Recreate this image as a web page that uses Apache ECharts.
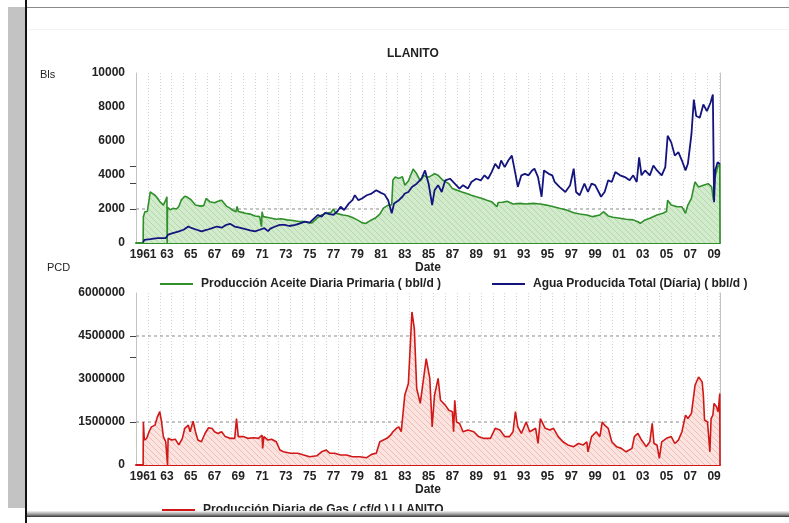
<!DOCTYPE html>
<html>
<head>
<meta charset="utf-8">
<script src="https://cdn.jsdelivr.net/npm/echarts@6/dist/echarts.min.js"></script>
<style>
  html, body { margin: 0; padding: 0; background: #fff; }
  #chart { width: 789px; height: 523px; }
</style>
</head>
<body>
<div id="chart"></div>
<script>
// ---- data ----------------------------------------------------------------
const chartTitle = 'LLANITO';
const oilName = 'Producción Aceite Diaria Primaria ( bbl/d )';
const waterName = 'Agua Producida Total (Díaria) ( bbl/d )';
const gasName = 'Producción Diaria de Gas ( cf/d ) LLANITO';

// tick years shown under both panels
const tickYears = [1961, 1963, 1965, 1967, 1969, 1971, 1973, 1975, 1977, 1979, 1981, 1983,
  1985, 1987, 1989, 1991, 1993, 1995, 1997, 1999, 2001, 2003, 2005, 2007, 2009];
const yearRange = [1960.4, 2009.5];

// top panel: barrels per day
const oilDaily = [
  [1961.0, 0], [1961.02, 1550], [1961.15, 1840], [1961.35, 1850], [1961.6, 3010], [1961.8, 2900],
  [1962.0, 2810], [1962.2, 2650], [1962.4, 2430], [1962.7, 2230], [1962.9, 2520], [1963.0, 2720],
  [1963.02, 0], [1963.05, 2100], [1963.3, 1950], [1963.5, 2040], [1963.8, 2000], [1964.0, 2150],
  [1964.2, 2520], [1964.5, 2750], [1964.7, 2700], [1965.0, 2560], [1965.4, 2230], [1965.8, 2170],
  [1966.1, 2200], [1966.3, 2620], [1966.6, 2430], [1967.0, 2370], [1967.3, 2450], [1967.6, 2520],
  [1968.0, 2170], [1968.3, 2050], [1968.5, 1940], [1968.8, 1840], [1968.9, 2150], [1969.0, 1850],
  [1969.3, 1800], [1969.6, 1750], [1970.0, 1700], [1970.4, 1590], [1970.8, 1550], [1970.95, 970],
  [1971.0, 1840], [1971.1, 1550], [1971.5, 1500], [1971.8, 1460], [1972.2, 1400], [1972.6, 1430],
  [1973.1, 1360], [1973.6, 1320], [1974.1, 1260], [1974.5, 1260], [1974.9, 1200], [1975.2, 1180],
  [1975.6, 1450], [1976.0, 1650], [1976.4, 1750], [1976.8, 1800], [1977.0, 2000], [1977.2, 1750],
  [1977.5, 1700], [1977.8, 1650], [1978.2, 1600], [1978.6, 1500], [1979.0, 1360], [1979.4, 1200],
  [1979.7, 1150], [1980.1, 1320], [1980.5, 1450], [1980.9, 1700], [1981.2, 2050], [1981.6, 2230],
  [1981.9, 2250], [1982.0, 3700], [1982.2, 3880], [1982.5, 3800], [1982.8, 3900], [1983.0, 3400],
  [1983.3, 3650], [1983.7, 4350], [1984.0, 4070], [1984.3, 3650], [1984.6, 3980], [1984.9, 3850],
  [1985.2, 3950], [1985.5, 4070], [1985.8, 3980], [1986.2, 3690], [1986.7, 3490], [1987.0, 3200],
  [1987.4, 3100], [1987.8, 3000], [1988.2, 2910], [1988.6, 2810], [1989.0, 2720], [1989.5, 2620],
  [1989.9, 2520], [1990.3, 2430], [1990.75, 2130], [1990.85, 2380], [1991.2, 2400], [1991.6, 2450],
  [1992.1, 2290], [1992.7, 2330], [1993.2, 2290], [1993.8, 2330], [1994.4, 2290], [1994.9, 2230],
  [1995.5, 2130], [1996.0, 2040], [1996.6, 1940], [1997.2, 1780], [1997.7, 1710], [1998.3, 1650],
  [1998.8, 1550], [1999.4, 1650], [1999.7, 1840], [2000.1, 1590], [2000.5, 1510], [2001.1, 1460],
  [2001.6, 1400], [2002.2, 1360], [2002.6, 1250], [2002.8, 1160], [2003.2, 1360], [2003.6, 1460],
  [2004.2, 1650], [2004.7, 1750], [2005.0, 1850], [2005.1, 2520], [2005.4, 2230], [2005.9, 2130],
  [2006.3, 2130], [2006.6, 1750], [2006.8, 2230], [2007.1, 2620], [2007.3, 3300], [2007.4, 3590],
  [2007.7, 3300], [2008.1, 3400], [2008.5, 3490], [2008.8, 3300], [2008.95, 2520], [2009.05, 3780],
  [2009.3, 4460], [2009.48, 4650], [2009.5, 0]
];

const waterDaily = [
  [1961.0, 40], [1961.1, 190], [1961.6, 230], [1962.2, 290], [1962.9, 290], [1963.0, 290],
  [1963.1, 490], [1963.5, 580], [1964.0, 680], [1964.4, 780], [1964.8, 970], [1965.1, 870],
  [1965.5, 780], [1965.9, 680], [1966.4, 780], [1966.8, 870], [1967.2, 970], [1967.6, 900],
  [1968.0, 1070], [1968.3, 1130], [1968.7, 970], [1969.1, 900], [1969.6, 810], [1970.0, 740],
  [1970.4, 680], [1970.8, 780], [1971.2, 870], [1971.5, 700], [1971.7, 850], [1972.1, 970],
  [1972.5, 1070], [1972.9, 1070], [1973.3, 1000], [1973.8, 1070], [1974.2, 1160], [1974.6, 1260],
  [1975.0, 1200], [1975.4, 1460], [1975.7, 1650], [1976.0, 1550], [1976.3, 1780], [1976.6, 1710],
  [1977.0, 1650], [1977.3, 1840], [1977.6, 2130], [1977.9, 1940], [1978.3, 2330], [1978.6, 2520],
  [1978.8, 2810], [1979.1, 2520], [1979.4, 2620], [1979.8, 2810], [1980.2, 2910], [1980.6, 3100],
  [1981.0, 2950], [1981.3, 2850], [1981.6, 2520], [1981.9, 1750], [1982.1, 2330], [1982.5, 2520],
  [1982.8, 2720], [1983.0, 2910], [1983.3, 3000], [1983.6, 3300], [1984.0, 3490], [1984.4, 3780],
  [1984.7, 4270], [1985.0, 3490], [1985.3, 2230], [1985.5, 3100], [1985.8, 3400], [1986.1, 3000],
  [1986.4, 3690], [1986.8, 3780], [1987.2, 3490], [1987.6, 3200], [1987.9, 3400], [1988.3, 3200],
  [1988.6, 3590], [1989.0, 3780], [1989.4, 3690], [1989.7, 3980], [1990.0, 3780], [1990.3, 4170],
  [1990.6, 4660], [1990.9, 4370], [1991.1, 4850], [1991.4, 4460], [1991.7, 4850], [1992.0, 5140],
  [1992.3, 4070], [1992.5, 3300], [1992.8, 3980], [1993.1, 4070], [1993.4, 3980], [1993.7, 4270],
  [1993.9, 4370], [1994.2, 3880], [1994.5, 2720], [1994.7, 4270], [1995.1, 4070], [1995.4, 3980],
  [1995.6, 3590], [1996.0, 3300], [1996.5, 3000], [1996.9, 3400], [1997.2, 4370], [1997.4, 3000],
  [1997.7, 2810], [1998.1, 3490], [1998.4, 3000], [1998.7, 3490], [1999.0, 3400], [1999.3, 3000],
  [1999.5, 2720], [1999.8, 3000], [2000.1, 3690], [2000.4, 3590], [2000.7, 4170], [2001.1, 3980],
  [2001.5, 3880], [2001.9, 3690], [2002.2, 3980], [2002.5, 3590], [2002.7, 5040], [2002.9, 3980],
  [2003.2, 4270], [2003.6, 3980], [2003.9, 4560], [2004.2, 4270], [2004.6, 3980], [2004.9, 4460],
  [2005.1, 6310], [2005.4, 5920], [2005.7, 5140], [2006.0, 5340], [2006.3, 4850], [2006.6, 4270],
  [2006.8, 4660], [2007.1, 6400], [2007.3, 8440], [2007.5, 7470], [2007.8, 7370], [2008.1, 8150],
  [2008.4, 7760], [2008.7, 8250], [2008.9, 8730], [2009.0, 2400], [2009.1, 4270], [2009.3, 4750],
  [2009.5, 4650]
];

// bottom panel: cubic feet per day
const gasDaily = [
  [1961.0, 0], [1961.02, 1500000], [1961.1, 870000], [1961.3, 930000], [1961.5, 1160000],
  [1961.7, 1330000], [1962.0, 1390000], [1962.2, 1680000], [1962.4, 1860000], [1962.55, 1500000],
  [1962.7, 990000], [1962.9, 810000], [1963.0, 850000], [1963.05, 0], [1963.1, 930000],
  [1963.4, 870000], [1963.7, 900000], [1964.0, 700000], [1964.3, 930000], [1964.5, 1280000],
  [1964.8, 1390000], [1964.95, 1160000], [1965.2, 1530000], [1965.4, 1160000], [1965.6, 870000],
  [1965.9, 810000], [1966.2, 1100000], [1966.5, 1300000], [1966.8, 1270000], [1967.0, 1160000],
  [1967.3, 1100000], [1967.6, 1160000], [1967.9, 990000], [1968.3, 930000], [1968.7, 930000],
  [1968.85, 1620000], [1969.0, 990000], [1969.4, 990000], [1969.8, 930000], [1970.3, 950000],
  [1970.7, 930000], [1971.0, 1040000], [1971.05, 580000], [1971.15, 990000], [1971.5, 870000],
  [1971.8, 900000], [1972.2, 810000], [1972.5, 520000], [1972.8, 460000], [1973.4, 410000],
  [1974.0, 410000], [1974.5, 350000], [1975.0, 290000], [1975.6, 320000], [1976.0, 460000],
  [1976.4, 520000], [1976.7, 410000], [1977.1, 410000], [1977.6, 350000], [1978.1, 350000],
  [1978.6, 290000], [1979.2, 290000], [1979.8, 255000], [1980.2, 370000], [1980.6, 410000],
  [1980.9, 810000], [1981.2, 870000], [1981.5, 930000], [1981.8, 1040000], [1982.0, 1160000],
  [1982.3, 1280000], [1982.5, 1330000], [1982.7, 1160000], [1983.0, 2440000], [1983.3, 2840000],
  [1983.6, 5340000], [1983.8, 4760000], [1984.0, 2670000], [1984.3, 2150000], [1984.5, 2780000],
  [1984.8, 3710000], [1985.1, 3020000], [1985.3, 1330000], [1985.5, 2440000], [1985.8, 3020000],
  [1986.0, 2260000], [1986.4, 2090000], [1986.7, 1910000], [1987.0, 1860000], [1987.1, 1160000],
  [1987.2, 2260000], [1987.35, 1500000], [1987.6, 1450000], [1987.9, 1160000], [1988.3, 1220000],
  [1988.8, 1160000], [1989.2, 990000], [1989.6, 930000], [1990.2, 930000], [1990.6, 1280000],
  [1991.0, 1220000], [1991.4, 990000], [1991.8, 990000], [1992.1, 1160000], [1992.3, 1860000],
  [1992.5, 1330000], [1992.8, 1100000], [1993.2, 1500000], [1993.5, 1160000], [1994.0, 1280000],
  [1994.2, 750000], [1994.4, 1620000], [1994.8, 1280000], [1995.2, 1220000], [1995.5, 1280000],
  [1995.9, 990000], [1996.3, 810000], [1996.7, 700000], [1997.2, 640000], [1997.6, 750000],
  [1998.0, 700000], [1998.3, 810000], [1998.4, 460000], [1998.7, 990000], [1999.1, 1160000],
  [1999.4, 990000], [1999.6, 1500000], [1999.8, 1390000], [2000.1, 1280000], [2000.4, 810000],
  [2000.8, 640000], [2001.2, 580000], [2001.6, 460000], [2002.1, 580000], [2002.3, 990000],
  [2002.6, 1100000], [2002.9, 870000], [2003.3, 640000], [2003.6, 810000], [2003.8, 1450000],
  [2003.95, 750000], [2004.2, 700000], [2004.4, 230000], [2004.6, 810000], [2005.0, 930000],
  [2005.4, 990000], [2005.7, 750000], [2006.0, 870000], [2006.3, 1160000], [2006.6, 1740000],
  [2006.8, 1620000], [2007.1, 1800000], [2007.4, 2780000], [2007.7, 3070000], [2008.0, 2900000],
  [2008.1, 2440000], [2008.2, 1570000], [2008.45, 1500000], [2008.65, 460000], [2008.75, 1620000],
  [2008.9, 1740000], [2009.0, 2150000], [2009.2, 2030000], [2009.35, 1860000], [2009.48, 2490000],
  [2009.5, 0]
];

// dashed reference levels and extra axis ticks per panel
const topRefLevels = [2000];
const topExtraTicks = [2000, 3500, 4500];
const bottomRefLevels = [1500000, 4500000];
const bottomExtraTicks = [1500000, 3750000, 4500000];

// ---- styling helpers -----------------------------------------------------
const FONT = '"Liberation Sans", Arial, sans-serif';
const GREEN = '#2f8f2a';
const BLUE = '#14147f';
const RED = '#d01818';

function hatch(base, stroke) {
  const c = document.createElement('canvas');
  c.width = 6; c.height = 6;
  const g = c.getContext('2d');
  g.fillStyle = base;
  g.fillRect(0, 0, 6, 6);
  g.strokeStyle = stroke;
  g.lineWidth = 1;
  g.beginPath();
  g.moveTo(-1, -1); g.lineTo(7, 7);
  g.moveTo(-1, 5); g.lineTo(1, 7);
  g.moveTo(5, -1); g.lineTo(7, 1);
  g.stroke();
  return c;
}

function refSeries(levels, xIdx, yIdx) {
  return levels.map(v => ({
    type: 'line', xAxisIndex: xIdx, yAxisIndex: yIdx, z: 1, silent: true,
    symbol: 'none', data: [[yearRange[0], v], [yearRange[1], v]],
    lineStyle: { color: '#8c8c8c', width: 1, type: [3, 3] }
  }));
}

const yearLabel = v => (v === 1961 ? '1961' : String(v % 100).padStart(2, '0'));

function gridLineAxis(gridIndex) {
  return {
    type: 'value', gridIndex, position: 'top', min: yearRange[0], max: yearRange[1], interval: 1,
    axisLine: { show: false }, axisTick: { show: false }, axisLabel: { show: false },
    splitLine: { show: true, lineStyle: { color: '#d4d4d4', type: [1, 2], width: 1 } }
  };
}

function labelAxis(gridIndex, lineColor) {
  return {
    type: 'value', gridIndex, position: 'bottom', min: yearRange[0], max: yearRange[1],
    name: 'Date', nameLocation: 'middle', nameGap: 18,
    nameTextStyle: { fontFamily: FONT, fontWeight: 'bold', fontSize: 12, color: '#222' },
    axisLine: { show: true, lineStyle: { color: lineColor, width: 2 } },
    axisTick: { show: false },
    splitLine: { show: false },
    axisLabel: {
      customValues: tickYears, formatter: yearLabel, margin: 6,
      fontFamily: FONT, fontWeight: 'bold', fontSize: 12, color: '#222'
    }
  };
}

function leftAxis(gridIndex, max, interval, ticks) {
  return {
    type: 'value', gridIndex, position: 'left', min: 0, max, interval,
    axisLine: { show: true, lineStyle: { color: '#c4c4c4', width: 1 } },
    axisTick: { show: true, customValues: ticks, length: 6, lineStyle: { color: '#444' } },
    splitLine: { show: false },
    axisLabel: {
      margin: 11, formatter: v => String(v),
      fontFamily: FONT, fontWeight: 'bold', fontSize: 12, color: '#222'
    }
  };
}

function rightAxis(gridIndex, max) {
  return {
    type: 'value', gridIndex, position: 'right', min: 0, max,
    axisLine: { show: true, lineStyle: { color: '#c4c4c4', width: 1 } },
    axisTick: { show: false }, axisLabel: { show: false }, splitLine: { show: false }
  };
}

const legendBase = {
  icon: 'rect', itemWidth: 33, itemHeight: 2, orient: 'horizontal', selectedMode: false,
  textStyle: { fontFamily: FONT, fontWeight: 'bold', fontSize: 12, color: '#222', padding: [0, 0, 0, 3] }
};

const chart = echarts.init(document.getElementById('chart'), null, { renderer: 'canvas' });

chart.setOption({
  animation: false,
  backgroundColor: '#ffffff',
  title: {
    text: chartTitle, left: 382, top: 43,
    textStyle: { fontFamily: FONT, fontWeight: 'bold', fontSize: 12, color: '#222' }
  },
  grid: [
    { left: 136, width: 584, top: 73, height: 170 },
    { left: 136, width: 584, top: 293, height: 172 }
  ],
  xAxis: [gridLineAxis(0), labelAxis(0, GREEN), gridLineAxis(1), labelAxis(1, RED)],
  yAxis: [
    leftAxis(0, 10000, 2000, topExtraTicks), rightAxis(0, 10000),
    leftAxis(1, 6000000, 1500000, bottomExtraTicks), rightAxis(1, 6000000)
  ],
  legend: [
    Object.assign({}, legendBase, { left: 155, top: 273, data: [oilName] }),
    Object.assign({}, legendBase, { left: 487, top: 273, data: [waterName] }),
    Object.assign({}, legendBase, { left: 157, top: 499, data: [gasName] })
  ],
  series: [
    ...refSeries(topRefLevels, 1, 0),
    {
      name: oilName, type: 'line', xAxisIndex: 1, yAxisIndex: 0, z: 2,
      symbol: 'none', data: oilDaily, color: GREEN,
      lineStyle: { color: GREEN, width: 1.6 },
      areaStyle: { color: { image: hatch('#d3ebcd', '#b3d9aa'), repeat: 'repeat' }, opacity: 1 }
    },
    {
      name: waterName, type: 'line', xAxisIndex: 1, yAxisIndex: 0, z: 3,
      symbol: 'none', data: waterDaily, color: BLUE,
      lineStyle: { color: BLUE, width: 1.8 }
    },
    ...refSeries(bottomRefLevels, 3, 2),
    {
      name: gasName, type: 'line', xAxisIndex: 3, yAxisIndex: 2, z: 2,
      symbol: 'none', data: gasDaily, color: RED,
      lineStyle: { color: RED, width: 1.6 },
      areaStyle: { color: { image: hatch('#fbe3df', '#f0bcb5'), repeat: 'repeat' }, opacity: 1 }
    }
  ],
  graphic: [
    // unit captions
    { type: 'text', left: 40, top: 69, style: { text: 'Bls', font: '11px ' + FONT, fill: '#222' } },
    { type: 'text', left: 47, top: 262, style: { text: 'PCD', font: '11px ' + FONT, fill: '#222' } },
    // page frame
    { type: 'rect', z: 100, shape: { x: 8, y: 7, width: 17, height: 501 }, style: { fill: '#c3c3c3' } },
    { type: 'rect', z: 100, shape: { x: 25, y: 0, width: 2, height: 523 }, style: { fill: '#111' } },
    { type: 'rect', z: 100, shape: { x: 27, y: 7, width: 762, height: 1 }, style: { fill: '#8a8a8a' } },
    { type: 'rect', z: 100, shape: { x: 29, y: 29, width: 760, height: 1 }, style: { fill: '#f3f3f3' } },
    {
      type: 'rect', z: 100, shape: { x: 27, y: 511, width: 762, height: 6 },
      style: {
        fill: new echarts.graphic.LinearGradient(0, 0, 0, 1, [
          { offset: 0, color: '#f4f4f4' }, { offset: 0.55, color: '#9a9a9a' }, { offset: 1, color: '#333' }
        ])
      }
    }
  ]
});
</script>
</body>
</html>
